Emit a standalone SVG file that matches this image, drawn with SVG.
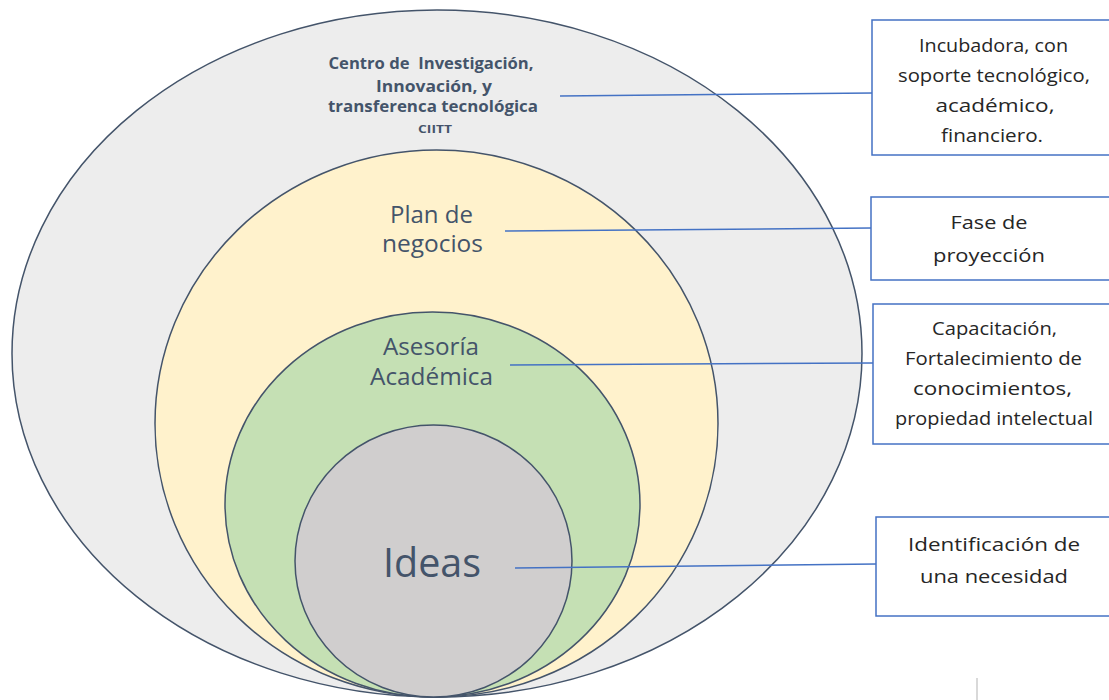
<svg xmlns="http://www.w3.org/2000/svg" width="1109" height="700" viewBox="0 0 1109 700">
<style>
.ring{stroke:#44546A;stroke-width:1.5}
.lbl{font-family:"Open Sans","Noto Sans",sans-serif;fill:#44546A;text-anchor:middle}
.ttl{font-weight:bold;font-size:15.5px}
.mid{font-size:23px}
.box{fill:#FFFFFF;stroke:#4472C4;stroke-width:1.5}
.bt{font-family:"Open Sans","Noto Sans",sans-serif;font-size:17.5px;fill:#262626;text-anchor:middle}
.conn{stroke:#4472C4;stroke-width:1.5;fill:none}
</style>
<rect width="1109" height="700" fill="#FFFFFF"/>
<g id="ciitt">
<ellipse class="ring" cx="437" cy="353.5" rx="425" ry="343.5" fill="#EDEDED"/>
<text class="lbl ttl" x="431" y="69" textLength="205" lengthAdjust="spacingAndGlyphs">Centro de&#160; Investigación,</text>
<text class="lbl ttl" x="434" y="92" textLength="116" lengthAdjust="spacingAndGlyphs">Innovación, y</text>
<text class="lbl ttl" x="433" y="112" textLength="210" lengthAdjust="spacingAndGlyphs">transferenca tecnológica</text>
<text class="lbl" font-weight="bold" font-size="11" x="435" y="133" textLength="34" lengthAdjust="spacingAndGlyphs">CIITT</text>
</g>
<g id="plan">
<ellipse class="ring" cx="436.5" cy="423.5" rx="281.5" ry="273.5" fill="#FFF2CC"/>
<text class="lbl mid" x="431.5" y="223" textLength="83" lengthAdjust="spacingAndGlyphs">Plan de</text>
<text class="lbl mid" x="432.5" y="252" textLength="101" lengthAdjust="spacingAndGlyphs">negocios</text>
</g>
<g id="asesoria">
<ellipse class="ring" cx="432.5" cy="504.5" rx="207.5" ry="192.5" fill="#C5E0B4"/>
<text class="lbl mid" x="431" y="355" textLength="96" lengthAdjust="spacingAndGlyphs">Asesoría</text>
<text class="lbl mid" x="431.5" y="385" textLength="123" lengthAdjust="spacingAndGlyphs">Académica</text>
</g>
<g id="ideas">
<ellipse class="ring" cx="433.5" cy="561" rx="138.5" ry="136" fill="#D0CECE"/>
<text class="lbl" font-size="40" x="432" y="577" textLength="98" lengthAdjust="spacingAndGlyphs">Ideas</text>
</g>
<g id="connectors">
<line class="conn" x1="560" y1="96" x2="873" y2="93"/>
<line class="conn" x1="505" y1="231" x2="871" y2="228"/>
<line class="conn" x1="510" y1="365" x2="873" y2="363"/>
<line class="conn" x1="515" y1="568" x2="876" y2="564"/>
</g>
<g id="box-incubadora">
<rect class="box" x="872" y="20" width="250" height="135"/>
<text class="bt" x="993.5" y="52" textLength="149" lengthAdjust="spacingAndGlyphs">Incubadora, con</text>
<text class="bt" x="994" y="82" textLength="192" lengthAdjust="spacingAndGlyphs">soporte tecnológico,</text>
<text class="bt" x="995" y="112" textLength="119" lengthAdjust="spacingAndGlyphs">académico,</text>
<text class="bt" x="992" y="142" textLength="102" lengthAdjust="spacingAndGlyphs">financiero.</text>
</g>
<g id="box-fase">
<rect class="box" x="871" y="197" width="250" height="83"/>
<text class="bt" x="989" y="229" textLength="77" lengthAdjust="spacingAndGlyphs">Fase de</text>
<text class="bt" x="989" y="262" textLength="112" lengthAdjust="spacingAndGlyphs">proyección</text>
</g>
<g id="box-capacitacion">
<rect class="box" x="873" y="304" width="250" height="140"/>
<text class="bt" x="994.5" y="335" textLength="125" lengthAdjust="spacingAndGlyphs">Capacitación,</text>
<text class="bt" x="993.5" y="365" textLength="177" lengthAdjust="spacingAndGlyphs">Fortalecimiento de</text>
<text class="bt" x="992.5" y="395" textLength="159" lengthAdjust="spacingAndGlyphs">conocimientos,</text>
<text class="bt" x="994" y="425" textLength="198" lengthAdjust="spacingAndGlyphs">propiedad intelectual</text>
</g>
<g id="box-identificacion">
<rect class="box" x="876" y="517" width="250" height="99"/>
<text class="bt" x="994" y="551" textLength="172" lengthAdjust="spacingAndGlyphs">Identificación de</text>
<text class="bt" x="994" y="583" textLength="148" lengthAdjust="spacingAndGlyphs">una necesidad</text>
</g>
<line x1="977" y1="678" x2="977" y2="700" stroke="#D9D9D9" stroke-width="2"/>
</svg>
